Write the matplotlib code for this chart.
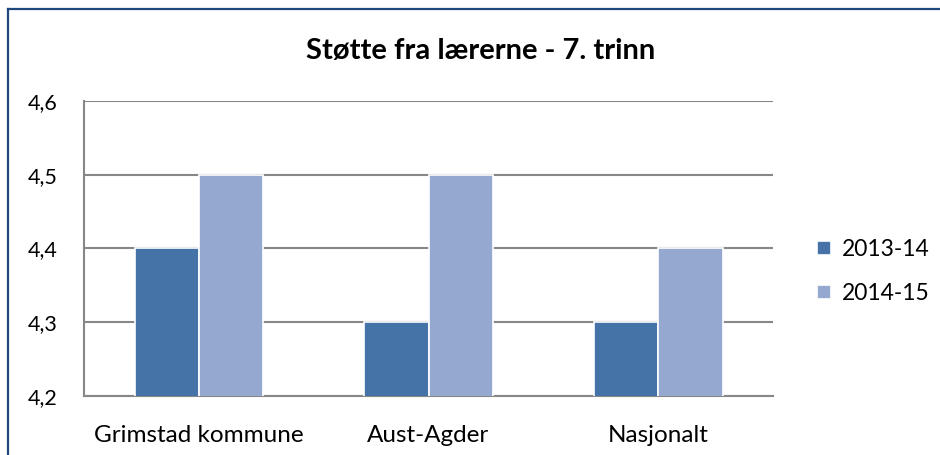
import numpy as np
import matplotlib
matplotlib.use("Agg")
import matplotlib.pyplot as plt
from matplotlib.lines import Line2D
from matplotlib.ticker import FuncFormatter

# data
kategorier = ["Grimstad kommune", "Aust-Agder", "Nasjonalt"]
serier = ["2013-14", "2014-15"]
v_2013 = [4.4, 4.3, 4.3]
v_2014 = [4.5, 4.5, 4.4]
farger = ["#4573A7", "#95A9D0"]

plt.rcParams["font.family"] = ["Lato", "DejaVu Sans"]

fig = plt.figure(figsize=(9.4, 4.55), dpi=100)
ax = fig.add_axes([0.0894, 0.1297, 0.7330, 0.6483])

x = np.arange(len(kategorier))
b = 0.28
ax.bar(x - b / 2, v_2013, b, color=farger[0], edgecolor="white", linewidth=1.2,
       label=serier[0], zorder=3)
ax.bar(x + b / 2, v_2014, b, color=farger[1], edgecolor="white", linewidth=1.2,
       label=serier[1], zorder=3)

ax.set_ylim(4.2, 4.6)
ax.set_xlim(-0.5, 2.5)
ax.set_yticks([4.2, 4.3, 4.4, 4.5, 4.6])
ax.yaxis.set_major_formatter(FuncFormatter(lambda v, p: ("%.1f" % v).replace(".", ",")))
ax.set_xticks(x)
ax.set_xticklabels(kategorier)
ax.tick_params(axis="both", length=0, colors="black")
ax.tick_params(axis="y", labelsize=15.5, pad=19)
ax.tick_params(axis="x", labelsize=17.5, pad=21)
ax.grid(axis="y", color="#878787", linewidth=1.5, zorder=0)
for s in ["top", "right"]:
    ax.spines[s].set_visible(False)
for s in ["left", "bottom"]:
    ax.spines[s].set_color("#878787")
    ax.spines[s].set_linewidth(1.5)

fig.text(0.511, 0.888, "Støtte fra lærerne - 7. trinn", ha="center", va="center",
         fontsize=21, fontweight="bold")

fig.legend(loc="upper left", bbox_to_anchor=(0.857, 0.50), frameon=False,
           fontsize=16.5, handlelength=0.6, handleheight=0.6, handletextpad=0.5,
           labelspacing=1.0, borderpad=0)

# blue frame (top and left edges visible)
fig.add_artist(Line2D([0.0085, 1.0], [0.981, 0.981], color="#1F497D", linewidth=1.6,
                      transform=fig.transFigure))
fig.add_artist(Line2D([0.0085, 0.0085], [0.0, 0.981], color="#1F497D", linewidth=1.6,
                      transform=fig.transFigure))

fig.savefig("out.png", dpi=100)
